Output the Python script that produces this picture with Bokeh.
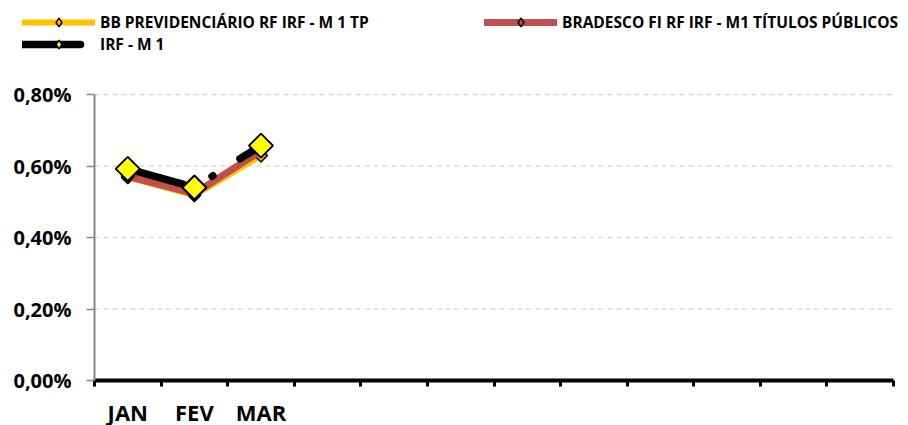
import math
from bokeh.plotting import figure
from bokeh.models import FixedTicker, Legend, LegendItem, ColumnDataSource
from bokeh.embed import file_html
from bokeh.resources import INLINE

# ---- data ----
months = ["JAN", "FEV", "MAR"]
month_slots = ["JAN", "FEV", "MAR", "", "", "", "", "", "", "", "", ""]
bb_values = [0.568, 0.518, 0.629]
bradesco_values = [0.571, 0.523, 0.642]
irf_values = [0.592, 0.540, 0.657]
series_names = [
    "BB PREVIDENCIÁRIO RF IRF - M 1 TP",
    "BRADESCO FI RF IRF - M1 TÍTULOS PÚBLICOS",
    "IRF - M 1",
]
series_colors = ["#FFC000", "#C0504D", "#FFFF00"]
y_ticks = [0.0, 0.2, 0.4, 0.6, 0.8]
y_tick_labels = ["0,00%", "0,20%", "0,40%", "0,60%", "0,80%"]

FONT = "Open Sans"
W, H = 908, 425
n_slots = len(month_slots)
xs = [i + 0.5 for i in range(len(months))]

# plot-area geometry (pixels): axes sit at left=94, right=893, top=94, bottom=380
PL, PR, PT, PB = 94, 893, 94, 380
ux = n_slots / (PR - PL)
uy = (y_ticks[-1] - y_ticks[0]) / (PB - PT)
x_range = (0 - PL * ux, n_slots + (W - PR) * ux)
y_range = (y_ticks[0] - (H - PB) * uy, y_ticks[-1] + PT * uy)

src = ColumnDataSource(dict(x=xs, bb=bb_values, brad=bradesco_values, irf=irf_values))

p = figure(width=W, height=H, frame_width=W, frame_height=H,
           x_range=x_range, y_range=y_range,
           output_backend="svg", toolbar_location=None, min_border=0)
p.outline_line_color = None
p.background_fill_color = "white"
p.border_fill_color = "white"
p.xgrid.visible = False
p.ygrid.visible = False

# dashed horizontal gridlines across the plot area
grid_src = ColumnDataSource(dict(y=y_ticks[1:], x0=[0] * (len(y_ticks) - 1), x1=[n_slots] * (len(y_ticks) - 1)))
p.segment(x0="x0", x1="x1", y0="y", y1="y", source=grid_src, line_color="#D9D9D9",
          line_width=1.5, line_dash="5 4", level="underlay")

# x axis: labels at category centres, tick marks at category boundaries
xa = p.xaxis[0]
xa.fixed_location = y_ticks[0]
xa.bounds = (0, n_slots)
xa.ticker = FixedTicker(ticks=[i + 0.5 for i in range(n_slots)], minor_ticks=list(range(n_slots + 1)))
xa.major_label_overrides = {i + 0.5: lab for i, lab in enumerate(month_slots)}
xa.axis_line_color = "black"
xa.axis_line_width = 4
xa.major_tick_out = 0
xa.major_tick_in = 0
xa.minor_tick_out = 6
xa.minor_tick_in = 0
xa.minor_tick_line_color = "black"
xa.minor_tick_line_width = 3
xa.major_label_text_font = FONT
xa.major_label_text_font_style = "bold"
xa.major_label_text_font_size = "22px"
xa.major_label_text_color = "black"
xa.major_label_standoff = 10

# y axis
ya = p.yaxis[0]
ya.fixed_location = 0
ya.bounds = (y_ticks[0], y_ticks[-1])
ya.ticker = FixedTicker(ticks=y_ticks)
ya.major_label_overrides = {t: lab for t, lab in zip(y_ticks, y_tick_labels)}
ya.axis_line_color = "#868686"
ya.axis_line_width = 2
ya.major_tick_out = 8
ya.major_tick_in = 0
ya.major_tick_line_color = "#868686"
ya.major_tick_line_width = 1.5
ya.minor_tick_line_color = None
ya.major_label_text_font = FONT
ya.major_label_text_font_style = "bold"
ya.major_label_text_font_size = "20px"
ya.major_label_text_color = "black"
ya.major_label_standoff = 15

# series lines
r1l = p.line("x", "bb", source=src, line_color=series_colors[0], line_width=6, line_cap="round", line_join="round")
k1 = p.scatter("x", "bb", source=src, marker="diamond", size=9, fill_color=series_colors[0],
               line_color="black", line_width=1.5)
p.scatter("x", "bb", source=src, marker="square", angle=math.pi / 4, size=9,
          fill_color=series_colors[0], line_color="black", line_width=1.5)
r2l = p.line("x", "brad", source=src, line_color=series_colors[1], line_width=7, line_cap="round", line_join="round")
k2 = p.scatter("x", "brad", source=src, marker="diamond", size=9, fill_color=series_colors[1],
               line_color="black", line_width=1.5)
p.scatter("x", "brad", source=src, marker="square", angle=math.pi / 4, size=9,
          fill_color=series_colors[1], line_color="black", line_width=1.5)
r3l = p.line("x", "irf", source=src, line_color="black", line_width=7.5, line_cap="round", line_join="round",
             line_dash="58 32 1 32")
k3 = p.scatter("x", "irf", source=src, marker="diamond", size=10, fill_color=series_colors[2],
               line_color="black", line_width=1.5)
p.scatter("x", "irf", source=src, marker="square", angle=math.pi / 4, size=17,
          fill_color=series_colors[2], line_color="black", line_width=2)

legend = Legend(items=[
    LegendItem(label=series_names[0], renderers=[r1l, k1]),
    LegendItem(label=series_names[1], renderers=[r2l, k2]),
    LegendItem(label=series_names[2], renderers=[r3l, k3]),
], orientation="horizontal", ncols=2, location=(22, H - 11.5 - 40 - 3))
legend.label_text_font = FONT
legend.label_text_font_style = "bold"
legend.label_text_font_size = "15.5px"
legend.label_text_color = "black"
legend.label_standoff = 5
legend.glyph_width = 73
legend.glyph_height = 22
legend.label_height = 17
legend.label_width = 384
legend.spacing = 0
legend.padding = 0
legend.margin = 0
legend.border_line_alpha = 0
legend.background_fill_alpha = 0
p.add_layout(legend, "center")

open("out.html", "w").write(file_html(p, INLINE))
